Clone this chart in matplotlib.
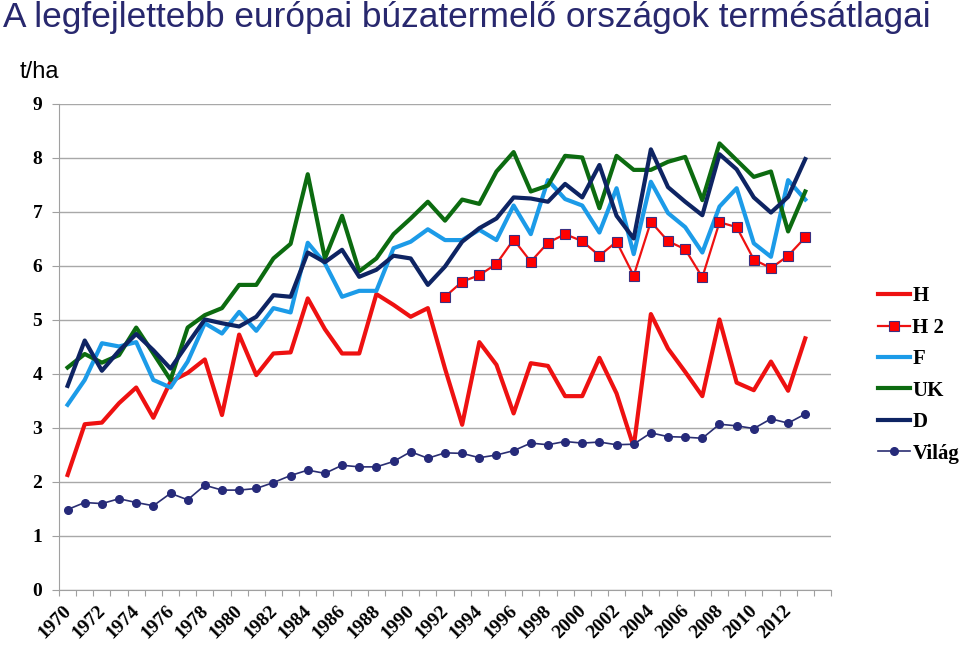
import matplotlib
matplotlib.use("Agg")
import matplotlib.pyplot as plt
import matplotlib.transforms as mtransforms
import numpy as np

years = list(range(1970, 2015))  # 45 categories, last one empty
tick_labels = [str(y) if y % 2 == 0 and y <= 2012 else "" for y in years]

H = [2.13, 3.07, 3.10, 3.46, 3.75, 3.19, 3.86, 4.02, 4.27, 3.24, 4.73, 3.98, 4.38, 4.40, 5.40,
     4.83, 4.38, 4.38, 5.48, 5.28, 5.06, 5.22, 4.10, 3.06, 4.59, 4.17, 3.27, 4.20, 4.15, 3.59,
     3.59, 4.30, 3.64, 2.65, 5.11, 4.47, 4.04, 3.59, 5.01, 3.84, 3.70, 4.23, 3.69, 4.66]
H2 = [None] * 22 + [5.43, 5.71, 5.83, 6.04, 6.49, 6.08, 6.43, 6.59, 6.46, 6.19, 6.45, 5.82,
                    6.82, 6.46, 6.31, 5.79, 6.81, 6.72, 6.12, 5.96, 6.19, 6.53]
F = [3.43, 3.89, 4.57, 4.51, 4.59, 3.89, 3.75, 4.23, 4.94, 4.75, 5.15, 4.80, 5.22, 5.14, 6.43,
     6.05, 5.43, 5.54, 5.54, 6.33, 6.45, 6.68, 6.48, 6.48, 6.67, 6.48, 7.12, 6.59, 7.59, 7.24,
     7.12, 6.62, 7.44, 6.22, 7.56, 6.98, 6.72, 6.25, 7.10, 7.44, 6.42, 6.17, 7.59, 7.23]
UK = [4.12, 4.37, 4.21, 4.35, 4.86, 4.38, 3.89, 4.86, 5.09, 5.22, 5.65, 5.65, 6.14, 6.41, 7.70,
      6.14, 6.93, 5.90, 6.14, 6.59, 6.88, 7.19, 6.84, 7.23, 7.15, 7.75, 8.11, 7.38, 7.49, 8.04,
      8.01, 7.07, 8.04, 7.78, 7.78, 7.93, 8.02, 7.22, 8.27, 7.96, 7.65, 7.75, 6.64, 7.38]
D = [3.78, 4.62, 4.06, 4.43, 4.74, 4.44, 4.10, 4.56, 5.01, 4.94, 4.88, 5.06, 5.46, 5.43, 6.25,
     6.07, 6.30, 5.80, 5.93, 6.19, 6.14, 5.65, 5.99, 6.45, 6.70, 6.88, 7.27, 7.25, 7.19, 7.52,
     7.27, 7.87, 6.93, 6.51, 8.16, 7.46, 7.19, 6.94, 8.07, 7.79, 7.27, 6.99, 7.28, 7.98]
Vilag = [1.49, 1.62, 1.60, 1.69, 1.62, 1.56, 1.79, 1.67, 1.94, 1.85, 1.85, 1.88, 1.99, 2.12, 2.22,
         2.16, 2.31, 2.28, 2.28, 2.38, 2.56, 2.44, 2.54, 2.53, 2.45, 2.50, 2.58, 2.72, 2.69, 2.75,
         2.72, 2.74, 2.69, 2.70, 2.91, 2.84, 2.83, 2.81, 3.07, 3.04, 2.99, 3.17, 3.09, 3.26]

serif_bold = dict(family="Liberation Serif", weight="bold")

fig = plt.figure(figsize=(9.6, 6.45), dpi=100)
ax = fig.add_axes([59 / 960, 1 - 590 / 645, (831 - 59) / 960, (590 - 104) / 645])

x = np.arange(len(H))
h2 = np.array([np.nan if v is None else v for v in H2], dtype=float)

ax.plot(x, H, color="#EE1111", lw=3.0, label="H", zorder=3)
ax.plot(x, h2, color="#EE1111", lw=1.6, marker="s", markersize=7.5, markerfacecolor="#FF0000",
        markeredgecolor="#3A2F80", markeredgewidth=0.8, label="H 2", zorder=4)
ax.plot(x, F, color="#1C9BE8", lw=3.0, label="F", zorder=3)
ax.plot(x, UK, color="#0C6B10", lw=3.0, label="UK", zorder=3)
ax.plot(x, D, color="#0E2463", lw=3.0, label="D", zorder=3)
ax.plot(x, Vilag, color="#2A2E72", lw=1.2, marker="o", markersize=5.5, markerfacecolor="#262A7A",
        markeredgecolor="#262A7A", label="Világ", zorder=3)

ax.set_xlim(-0.5, len(years) - 0.5)
ax.set_ylim(0, 9)
ax.set_yticks(range(0, 10))
ax.yaxis.grid(True, color="#A8A8A8", lw=1.0)
ax.set_axisbelow(True)
for s in ["top", "right"]:
    ax.spines[s].set_visible(False)
ax.spines["left"].set_color("#A0A0A0")
ax.spines["bottom"].set_color("#A0A0A0")

# tick marks on category boundaries, labels at category centers
ax.set_xticks(np.arange(-0.5, len(years), 1.0))
ax.set_xticklabels([])
ax.tick_params(axis="x", which="major", length=4.3, color="#A0A0A0", direction="out")
ax.set_xticks(np.arange(len(years)), minor=True)
ax.set_xticklabels(tick_labels, minor=True, rotation=45, ha="right", va="top",
                   rotation_mode="anchor", fontsize=14, **serif_bold)
ax.tick_params(axis="x", which="minor", length=0, pad=9)
shift = mtransforms.ScaledTranslation(-5 / 100, 0, fig.dpi_scale_trans)
for lab in ax.get_xticklabels(minor=True):
    lab.set_transform(lab.get_transform() + shift)
ax.tick_params(axis="y", length=5, color="#A0A0A0", pad=7)
for lab in ax.get_yticklabels():
    lab.set_fontfamily("Liberation Serif")
    lab.set_fontweight("bold")
    lab.set_fontsize(14)

leg = fig.legend(loc="center left", bbox_to_anchor=(878 / 960, 1 - 375 / 645),
                 frameon=False, prop=dict(family="Liberation Serif", weight="bold", size=15),
                 handlelength=1.55, handletextpad=0.1, labelspacing=0.55, borderpad=0,
                 borderaxespad=0)

fig.text(3 / 960, 1 - 17 / 645, "A legfejlettebb európai búzatermelő országok termésátlagai",
         family="Liberation Sans", fontsize=25.4, color="#28286E", va="center", ha="left")
fig.text(20 / 960, 1 - 72 / 645, "t/ha", family="Liberation Sans", fontsize=17,
         color="black", va="center", ha="left")

fig.savefig("out.png", dpi=100)
